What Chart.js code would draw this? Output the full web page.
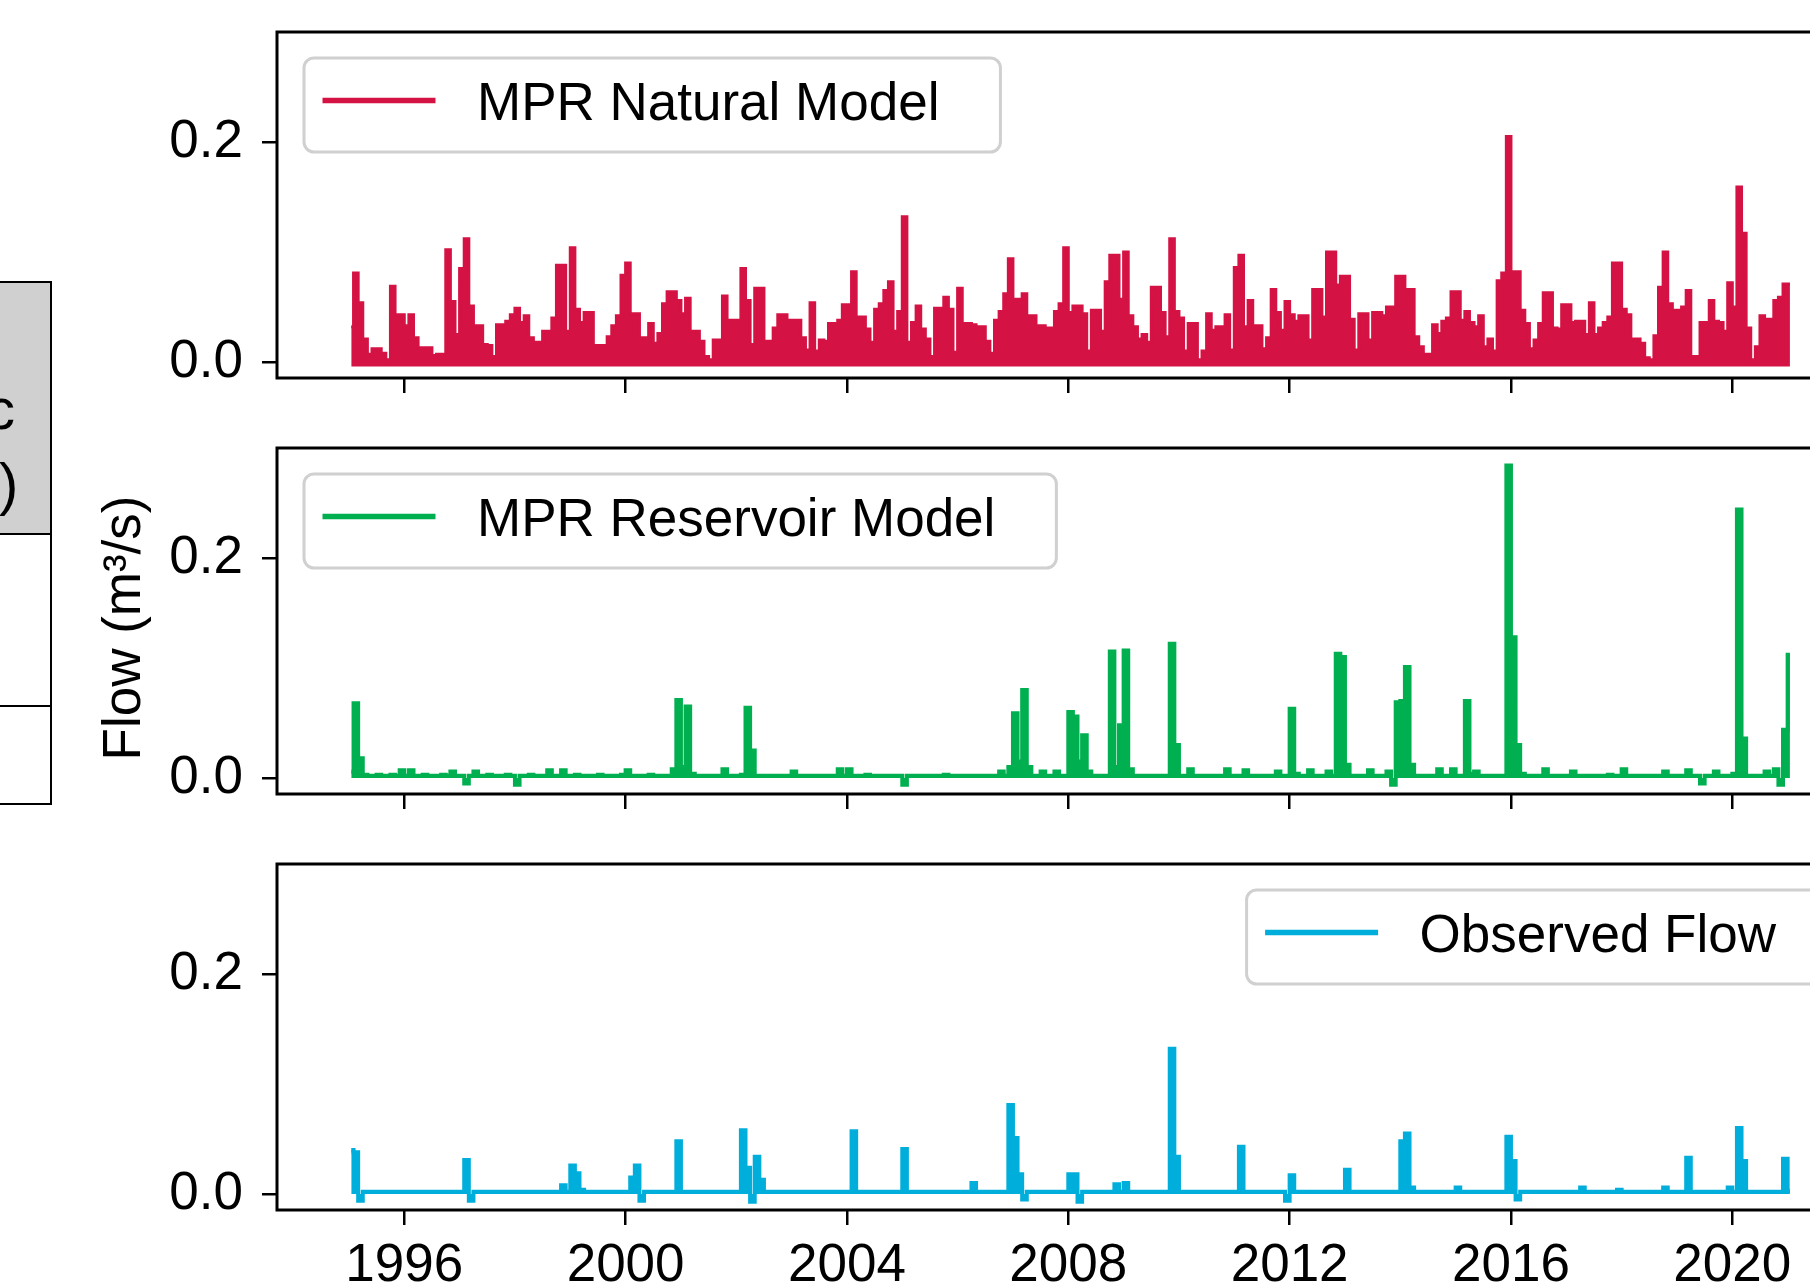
<!DOCTYPE html>
<html>
<head>
<meta charset="utf-8">
<script src="https://cdn.jsdelivr.net/npm/chart.js@4"></script>
<style>
  body { margin: 0; width: 1810px; height: 1283px; overflow: hidden; background: #fff; position: relative;
         font-family: "Liberation Sans", Arial, sans-serif; }
  canvas { position: absolute; left: 0; }
  .cell { position: absolute; left: -4px; width: 54px; border-right: 2px solid #000; border-bottom: 2px solid #000; }
  .glyph { position: absolute; font-size: 58px; line-height: 58px; color: #000; white-space: nowrap; }
  #ytitle { position: absolute; left: 121px; top: 628px; font-size: 53px; line-height: 53px; white-space: nowrap;
            transform: translate(-50%, -50%) rotate(-90deg); color: #000; }
</style>
</head>
<body>
<!-- piece of the neighbouring table, cut by the crop -->
<div class="cell" style="top:281px;height:250px;border-top:2px solid #000;background:#d0d0d0"></div>
<div class="cell" style="top:533px;height:172px"></div>
<div class="cell" style="top:707px;height:96px"></div>
<div class="glyph" style="left:-14px;top:380px">c</div>
<div class="glyph" style="left:-1px;top:455px">)</div>

<div id="ytitle">Flow (m³/s)</div>

<canvas id="natChart" width="1900" height="398" style="top:0px"></canvas>
<canvas id="resChart" width="1900" height="398" style="top:416px"></canvas>
<canvas id="obsChart" width="1900" height="471" style="top:832px"></canvas>

<script>
// monthly flows, Jan 1995 .. Jan 2021 (m3/s), one row per year
const natFlow = [
  0.032, 0.081, 0.054, 0.021, 0.007, 0.012, 0.012, 0.008, 0.002, 0.069, 0.043, 0.043,
  0.033, 0.043, 0.022, 0.013, 0.013, 0.013, 0.006, 0.007, 0.007, 0.102, 0.055, 0.025,
  0.085, 0.112, 0.051, 0.033, 0.033, 0.016, 0.015, 0.005, 0.034, 0.034, 0.037, 0.043,
  0.049, 0.036, 0.042, 0.022, 0.018, 0.018, 0.028, 0.028, 0.040, 0.088, 0.088, 0.028,
  0.104, 0.048, 0.036, 0.045, 0.045, 0.015, 0.015, 0.015, 0.023, 0.033, 0.042, 0.079,
  0.090, 0.044, 0.044, 0.022, 0.022, 0.035, 0.017, 0.026, 0.053, 0.064, 0.064, 0.056,
  0.044, 0.058, 0.028, 0.028, 0.019, 0.005, 0.002, 0.020, 0.020, 0.060, 0.038, 0.038,
  0.038, 0.085, 0.056, 0.016, 0.067, 0.067, 0.019, 0.019, 0.031, 0.043, 0.043, 0.038,
  0.038, 0.038, 0.022, 0.011, 0.054, 0.010, 0.020, 0.019, 0.035, 0.035, 0.038, 0.052,
  0.052, 0.082, 0.041, 0.041, 0.030, 0.018, 0.048, 0.053, 0.065, 0.073, 0.028, 0.046,
  0.132, 0.018, 0.036, 0.051, 0.030, 0.021, 0.005, 0.049, 0.049, 0.059, 0.048, 0.009,
  0.067, 0.035, 0.035, 0.034, 0.032, 0.032, 0.019, 0.008, 0.038, 0.046, 0.062, 0.094,
  0.057, 0.057, 0.062, 0.042, 0.042, 0.033, 0.033, 0.031, 0.031, 0.046, 0.053, 0.104,
  0.045, 0.051, 0.051, 0.044, 0.010, 0.047, 0.047, 0.028, 0.073, 0.097, 0.097, 0.057,
  0.100, 0.042, 0.032, 0.021, 0.025, 0.018, 0.068, 0.068, 0.045, 0.023, 0.112, 0.046,
  0.040, 0.010, 0.035, 0.035, 0.002, 0.010, 0.044, 0.029, 0.032, 0.032, 0.043, 0.011,
  0.086, 0.097, 0.032, 0.056, 0.033, 0.033, 0.012, 0.022, 0.066, 0.045, 0.029, 0.055,
  0.043, 0.037, 0.042, 0.042, 0.020, 0.066, 0.066, 0.041, 0.100, 0.100, 0.070, 0.078,
  0.078, 0.039, 0.011, 0.044, 0.044, 0.020, 0.045, 0.045, 0.042, 0.050, 0.050, 0.078,
  0.078, 0.066, 0.066, 0.023, 0.014, 0.007, 0.007, 0.034, 0.026, 0.037, 0.040, 0.064,
  0.064, 0.038, 0.046, 0.036, 0.032, 0.042, 0.014, 0.021, 0.010, 0.074, 0.081, 0.205,
  0.082, 0.082, 0.047, 0.035, 0.012, 0.020, 0.035, 0.063, 0.063, 0.031, 0.030, 0.052,
  0.052, 0.036, 0.037, 0.037, 0.025, 0.054, 0.025, 0.031, 0.036, 0.041, 0.090, 0.090,
  0.048, 0.043, 0.021, 0.021, 0.017, 0.004, 0.002, 0.024, 0.068, 0.100, 0.053, 0.047,
  0.047, 0.050, 0.065, 0.005, 0.005, 0.036, 0.036, 0.056, 0.037, 0.036, 0.028, 0.072,
  0.050, 0.159, 0.117, 0.031, 0.002, 0.014, 0.042, 0.039, 0.039, 0.056, 0.059, 0.071,
  0.071
]
const resFlow = [
  0.006, 0.068, 0.018, 0.003, 0.002, 0.002, 0.003, 0.002, 0.002, 0.003, 0.002, 0.007,
  0.002, 0.007, 0.002, 0.002, 0.003, 0.002, 0.002, 0.002, 0.003, 0.002, 0.006, 0.002,
  0.002, -0.005, 0.002, 0.006, 0.002, 0.002, 0.003, 0.002, 0.002, 0.002, 0.003, 0.002,
  -0.006, 0.002, 0.002, 0.003, 0.002, 0.002, 0.002, 0.007, 0.002, 0.002, 0.007, 0.002,
  0.002, 0.003, 0.002, 0.002, 0.002, 0.002, 0.003, 0.002, 0.002, 0.002, 0.002, 0.003,
  0.007, 0.002, 0.002, 0.002, 0.002, 0.003, 0.002, 0.002, 0.002, 0.002, 0.008, 0.071,
  0.010, 0.065, 0.004, 0.002, 0.002, 0.002, 0.002, 0.002, 0.002, 0.008, 0.002, 0.002,
  0.002, 0.003, 0.064, 0.025, 0.002, 0.002, 0.002, 0.002, 0.002, 0.002, 0.002, 0.002,
  0.006, 0.002, 0.002, 0.002, 0.002, 0.002, 0.002, 0.002, 0.002, 0.002, 0.008, 0.002,
  0.008, 0.002, 0.002, 0.002, 0.003, 0.002, 0.002, 0.002, 0.002, 0.002, 0.002, 0.002,
  -0.006, 0.002, 0.002, 0.002, 0.002, 0.002, 0.002, 0.002, 0.002, 0.003, 0.002, 0.002,
  0.002, 0.002, 0.002, 0.002, 0.002, 0.002, 0.002, 0.002, 0.002, 0.006, 0.002, 0.010,
  0.059, 0.015, 0.080, 0.010, 0.002, 0.002, 0.006, 0.002, 0.002, 0.006, 0.002, 0.002,
  0.060, 0.056, 0.015, 0.039, 0.006, 0.002, 0.002, 0.002, 0.002, 0.115, 0.010, 0.048,
  0.116, 0.008, 0.002, 0.002, 0.002, 0.002, 0.002, 0.002, 0.002, 0.002, 0.122, 0.030,
  0.002, 0.002, 0.008, 0.002, 0.002, 0.002, 0.002, 0.002, 0.002, 0.002, 0.008, 0.002,
  0.002, 0.002, 0.007, 0.002, 0.002, 0.002, 0.002, 0.002, 0.002, 0.006, 0.002, 0.002,
  0.063, 0.004, 0.002, 0.002, 0.007, 0.002, 0.002, 0.002, 0.006, 0.002, 0.113, 0.110,
  0.012, 0.002, 0.002, 0.002, 0.002, 0.007, 0.002, 0.002, 0.002, 0.006, -0.006, 0.069,
  0.070, 0.101, 0.012, 0.002, 0.002, 0.002, 0.002, 0.002, 0.008, 0.002, 0.002, 0.008,
  0.002, 0.002, 0.070, 0.004, 0.006, 0.002, 0.002, 0.002, 0.002, 0.002, 0.002, 0.284,
  0.128, 0.030, 0.004, 0.002, 0.002, 0.002, 0.002, 0.008, 0.002, 0.002, 0.002, 0.002,
  0.002, 0.006, 0.002, 0.002, 0.002, 0.002, 0.002, 0.002, 0.002, 0.003, 0.002, 0.002,
  0.008, 0.002, 0.002, 0.002, 0.002, 0.002, 0.002, 0.002, 0.002, 0.006, 0.002, 0.002,
  0.002, 0.002, 0.007, 0.002, 0.002, -0.005, 0.002, 0.002, 0.006, 0.002, 0.002, 0.002,
  0.004, 0.244, 0.036, 0.002, 0.002, 0.002, 0.002, 0.006, 0.002, 0.008, -0.006, 0.044,
  0.112
]
const obsFlow = [
  0.040, 0.038, -0.006, 0.002, 0.002, 0.002, 0.002, 0.002, 0.002, 0.002, 0.002, 0.002,
  0.002, 0.002, 0.002, 0.002, 0.002, 0.002, 0.002, 0.002, 0.002, 0.002, 0.002, 0.002,
  0.002, 0.031, -0.006, 0.002, 0.002, 0.002, 0.002, 0.002, 0.002, 0.002, 0.002, 0.002,
  0.002, 0.002, 0.002, 0.002, 0.002, 0.002, 0.002, 0.002, 0.002, 0.002, 0.008, 0.002,
  0.026, 0.019, 0.004, 0.002, 0.002, 0.002, 0.002, 0.002, 0.002, 0.002, 0.002, 0.002,
  0.002, 0.015, 0.026, -0.006, 0.002, 0.002, 0.002, 0.002, 0.002, 0.002, 0.002, 0.048,
  0.002, 0.002, 0.002, 0.002, 0.002, 0.002, 0.002, 0.002, 0.002, 0.002, 0.002, 0.002,
  0.002, 0.058, 0.024, -0.007, 0.034, 0.013, 0.002, 0.002, 0.002, 0.002, 0.002, 0.002,
  0.002, 0.002, 0.002, 0.002, 0.002, 0.002, 0.002, 0.002, 0.002, 0.002, 0.002, 0.002,
  0.002, 0.057, 0.002, 0.002, 0.002, 0.002, 0.002, 0.002, 0.002, 0.002, 0.002, 0.002,
  0.041, 0.002, 0.002, 0.002, 0.002, 0.002, 0.002, 0.002, 0.002, 0.002, 0.002, 0.002,
  0.002, 0.002, 0.002, 0.010, 0.002, 0.002, 0.002, 0.002, 0.002, 0.002, 0.002, 0.081,
  0.051, 0.018, -0.005, 0.002, 0.002, 0.002, 0.002, 0.002, 0.002, 0.002, 0.002, 0.002,
  0.018, 0.018, -0.007, 0.002, 0.002, 0.002, 0.002, 0.002, 0.002, 0.002, 0.009, 0.002,
  0.010, 0.002, 0.002, 0.002, 0.002, 0.002, 0.002, 0.002, 0.002, 0.002, 0.132, 0.034,
  0.002, 0.002, 0.002, 0.002, 0.002, 0.002, 0.002, 0.002, 0.002, 0.002, 0.002, 0.002,
  0.002, 0.043, 0.002, 0.002, 0.002, 0.002, 0.002, 0.002, 0.002, 0.002, 0.002, -0.006,
  0.017, 0.002, 0.002, 0.002, 0.002, 0.002, 0.002, 0.002, 0.002, 0.002, 0.002, 0.002,
  0.022, 0.002, 0.002, 0.002, 0.002, 0.002, 0.002, 0.002, 0.002, 0.002, 0.002, 0.002,
  0.048, 0.055, 0.006, 0.002, 0.002, 0.002, 0.002, 0.002, 0.002, 0.002, 0.002, 0.002,
  0.006, 0.002, 0.002, 0.002, 0.002, 0.002, 0.002, 0.002, 0.002, 0.002, 0.002, 0.052,
  0.030, -0.005, 0.002, 0.002, 0.002, 0.002, 0.002, 0.002, 0.002, 0.002, 0.002, 0.002,
  0.002, 0.002, 0.002, 0.006, 0.002, 0.002, 0.002, 0.002, 0.002, 0.002, 0.002, 0.004,
  0.002, 0.002, 0.002, 0.002, 0.002, 0.002, 0.002, 0.002, 0.002, 0.006, 0.002, 0.002,
  0.002, 0.002, 0.033, 0.002, 0.002, 0.002, 0.002, 0.002, 0.002, 0.002, 0.002, 0.006,
  0.002, 0.060, 0.030, 0.002, 0.002, 0.002, 0.002, 0.002, 0.002, 0.002, 0.002, 0.032,
  0.003
]
const startYear = 1995
const xTickValues = [1996, 2000, 2004, 2008, 2012, 2016, 2020]
const xTickLabels = ['1996', '2000', '2004', '2008', '2012', '2016', '2020']
const yTickValues = [0, 0.2]
const yTickLabels = ['0.0', '0.2']

const FONT = '"Liberation Sans", Arial, sans-serif'
Chart.defaults.font.family = FONT
Chart.defaults.font.size = 53
Chart.defaults.color = '#000'

// month centres in decimal years
const monthX = natFlow.map((v, i) => startYear + (i + 0.5) / 12)

// fixed axis sizes, no extra label padding round the plot area
function fixSize(s, w, h) {
  if (w !== null) s.width = w
  if (h !== null) s.height = h
  s.paddingTop = 0
  s.paddingBottom = 0
  s.paddingLeft = 0
  s.paddingRight = 0
}

// black box round the plot area
const framePlugin = {
  id: 'frame',
  afterDraw(chart) {
    const a = chart.chartArea, ctx = chart.ctx
    ctx.save()
    ctx.strokeStyle = '#000'
    ctx.lineWidth = 3
    ctx.strokeRect(a.left, a.top, a.right - a.left, a.bottom - a.top)
    ctx.restore()
  }
}

// matplotlib-like legend box inside the axes
const boxLegend = {
  id: 'boxLegend',
  afterDraw(chart, args, opts) {
    const ctx = chart.ctx, a = chart.chartArea
    const ds = chart.data.datasets[0]
    ctx.save()
    ctx.font = '53px ' + FONT
    const tw = ctx.measureText(ds.label).width
    const w = 173 + tw + 61, h = 94
    const x = opts.align === 'right' ? a.right - 27 - w : a.left + 27
    const y = a.top + 26
    ctx.beginPath()
    ctx.roundRect(x, y, w, h, 10)
    ctx.fillStyle = 'rgba(255,255,255,0.8)'
    ctx.fill()
    ctx.strokeStyle = '#d0d0d0'
    ctx.lineWidth = 3
    ctx.stroke()
    ctx.beginPath()
    ctx.moveTo(x + 18.5, y + 42.5)
    ctx.lineTo(x + 131.5, y + 42.5)
    ctx.strokeStyle = ds.borderColor
    ctx.lineWidth = 5.5
    ctx.stroke()
    ctx.fillStyle = '#000'
    ctx.textBaseline = 'alphabetic'
    ctx.fillText(ds.label, x + 173, y + 62)
    ctx.restore()
  }
}

function makePanel(id, label, values, color, fillTo, lineW, legendAlign, showYears, axisH) {
  const ctx = document.getElementById(id).getContext('2d')
  return new Chart(ctx, {
    type: 'line',
    data: {
      datasets: [{
        label: label,
        data: values.map((v, i) => ({ x: monthX[i], y: v })),
        borderColor: color,
        backgroundColor: color,
        borderWidth: lineW,
        pointRadius: 0,
        stepped: 'middle',
        fill: fillTo
      }]
    },
    options: {
      responsive: false,
      animation: false,
      layout: { padding: { top: 32, right: 36, left: 0, bottom: 0 } },
      plugins: {
        legend: { display: false },
        tooltip: { enabled: false },
        boxLegend: { align: legendAlign }
      },
      scales: {
        x: {
          type: 'linear',
          min: 1993.70,
          max: 2022.38,
          afterBuildTicks: s => { s.ticks = xTickValues.map(v => ({ value: v })) },
          afterFit: s => fixSize(s, null, axisH),
          border: { display: false },
          grid: { drawOnChartArea: false, tickLength: 15, color: '#000', lineWidth: 2.5 },
          ticks: {
            display: showYears, padding: 10, maxRotation: 0, autoSkip: false,
            callback: (v, i) => xTickLabels[i]
          }
        },
        y: {
          min: -0.0145,
          max: 0.300,
          afterBuildTicks: s => { s.ticks = yTickValues.map(v => ({ value: v })) },
          afterFit: s => fixSize(s, 277, null),
          border: { display: false },
          grid: { drawOnChartArea: false, tickLength: 15, color: '#000', lineWidth: 2.5 },
          ticks: { padding: 19, callback: (v, i) => yTickLabels[i] }
        }
      }
    },
    plugins: [framePlugin, boxLegend]
  })
}

makePanel('natChart', 'MPR Natural Model', natFlow, '#d41243', { value: -0.004 }, 3, 'left', false, 20)
makePanel('resChart', 'MPR Reservoir Model', resFlow, '#00b050', 'origin', 4, 'left', false, 20)
makePanel('obsChart', 'Observed Flow', obsFlow, '#00aedb', 'origin', 4, 'right', true, 93)
</script>
</body>
</html>
